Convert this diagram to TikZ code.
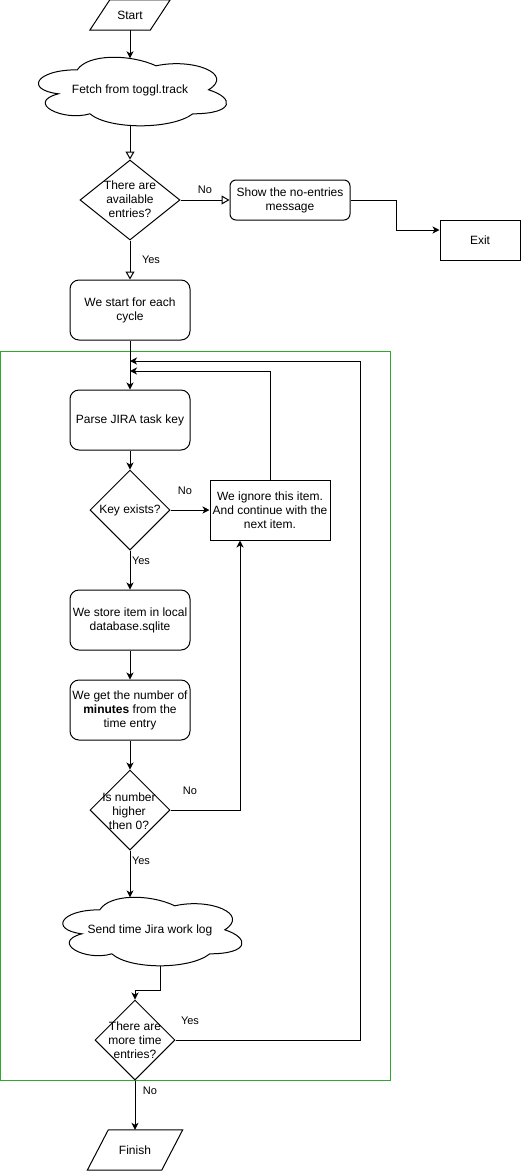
\documentclass[tikz,border=0pt]{standalone}
\usepackage{fontspec}
\setmainfont{Liberation Sans}
\usetikzlibrary{shapes.geometric,arrows.meta,calc}
\definecolor{grn}{RGB}{44,170,44}
\newcommand\drawiocloud[3]{%
  \draw[ln, shift={(#1.north west)}, x=#2pt, y=-#3pt]
    (0.25,0.25) .. controls (0.05,0.25) and (0,0.5) .. (0.16,0.55)
    .. controls (0,0.66) and (0.18,0.9) .. (0.31,0.8)
    .. controls (0.4,1) and (0.7,1) .. (0.8,0.8)
    .. controls (1,0.8) and (1,0.6) .. (0.875,0.5)
    .. controls (1,0.3) and (0.8,0.1) .. (0.625,0.2)
    .. controls (0.5,0.05) and (0.3,0.05) .. (0.25,0.25) -- cycle;}
\newcommand\drawpara[2]{%
  \draw[ln] ([xshift=#2pt]#1.north west) -- (#1.north east)
    -- ([xshift=-#2pt]#1.south east) -- (#1.south west) -- cycle;}
\begin{document}
\begin{tikzpicture}[x=1pt,y=-1pt,
  ln/.style={draw=black, line width=1pt},
  arr/.style={ln, -{Stealth[length=7pt,width=7pt,inset=2pt]}},
  oarr/.style={ln, -{Triangle[open,length=8pt,width=9pt,fill=white]}},
  txt/.style={font=\fontsize{12}{14}\selectfont, align=center, inner sep=0pt},
  lbl/.style={font=\fontsize{11}{13}\selectfont, inner sep=0pt},
  rbox/.style={txt, draw, line width=1pt, rounded corners=9pt, minimum width=120pt, minimum height=60pt},
  sbox/.style={txt, draw, line width=1pt, minimum width=120pt, minimum height=60pt},
  dia/.style={draw, diamond, inner sep=0pt, line width=1pt},
  holder/.style={txt}
]
\useasboundingbox (0,0) rectangle (521,1171);

% container
\draw[grn, line width=1pt] (0.5,351) rectangle (390,1080);

% start
\node[holder, minimum width=80pt, minimum height=30pt] (start) at (130,15) {Start};
\drawpara{start}{20}

% cloud 1
\node[holder, minimum width=210pt, minimum height=80pt] (c1) at (130,90) {Fetch from toggl.track};
\drawiocloud{c1}{210}{80}
\coordinate (c1t) at ([yshift=-8.5pt]c1.north);
\coordinate (c1b) at ([yshift=4.3pt]c1.south);

% decision 1
\node[dia, minimum width=100pt, minimum height=80pt] (d1) at (130,200) {};
\node[txt] (d1t) at (130,199) {There are\\available\\entries?};

\node[rbox, rounded corners=6pt, minimum height=40pt] (nomsg) at (290,200) {Show the no-entries\\message};
\node[sbox, minimum width=80pt, minimum height=40pt] (exit) at (480,240) {Exit};

\node[rbox] (cyc) at (130,310) {We start for each\\cycle};

\node[rbox] (parse) at (130,420) {Parse JIRA task key};
\coordinate (j1) at (130,361);
\coordinate (j2) at (130,371);
\coordinate (loop) at (360,361);

\node[dia, minimum width=80pt, minimum height=80pt] (d2) at (130,510) {};
\node[txt] (d2t) at (130,510) {Key exists?};

\node[sbox] (ign) at (270,510) {We ignore this item.\\And continue with the\\next item.};

\node[rbox] (store) at (130,620) {We store item in local\\database.sqlite};
\node[rbox] (mins) at (130,710) {We get the number of\\\textbf{minutes} from the\\time entry};

\node[dia, minimum width=80pt, minimum height=80pt] (d3) at (130,810) {};
\node[txt] (d3t) at (129,811) {Is number\\higher\\then 0?};

% cloud 2
\node[holder, minimum width=200pt, minimum height=80pt] (c2) at (150,930) {Send time Jira work log};
\drawiocloud{c2}{200}{80}
\coordinate (c2t) at ([xshift=-20pt,yshift=-7.6pt]c2.north);
\coordinate (c2b) at ([xshift=10pt,yshift=4pt]c2.south);

\node[dia, minimum width=80pt, minimum height=80pt] (d4) at (135,1040) {};
\node[txt] (d4t) at (135,1040) {There are\\more time\\entries?};

\node[holder, minimum width=95pt, minimum height=40pt] (fin) at (135,1150) {Finish};
\drawpara{fin}{21}

% connectors
\draw[arr] (start.south) -- (c1t);
\draw[oarr] (c1b) -- (d1.north);
\draw[oarr] (d1.east) -- (nomsg.west);
\draw[arr] (nomsg.east) -- ++(46,0) |- ([yshift=10pt]exit.west);
\draw[oarr] (d1.south) -- (cyc.north);
\draw[arr] (cyc.south) -- (parse.north);
\draw[arr] (parse.south) -- (d2.north);
\draw[arr] (d2.east) -- (ign.west);
\draw[arr] (d2.south) -- (store.north);
\draw[arr] (store.south) -- (mins.north);
\draw[arr] (mins.south) -- (d3.north);
\draw[arr] (d3.east) -| ([xshift=-30pt]ign.south);
\draw[arr] (ign.north) |- (j2);
\draw[arr] (d3.south) -- (c2t);
\draw[arr] (c2b) -- ++(0,24) -| (d4.north);
\draw[arr] (d4.east) -| (loop) -- (j1);
\draw[arr] (d4.south) -- (fin.north);

% labels
\node[lbl] (l1) at (205,190) {No};
\node[lbl] (l2) at (151,260) {Yes};
\node[lbl] (l3) at (185,491) {No};
\node[lbl] (l4) at (141,561) {Yes};
\node[lbl] (l5) at (190,791) {No};
\node[lbl] (l6) at (141,861) {Yes};
\node[lbl] (l7) at (190,1021) {Yes};
\node[lbl] (l8) at (150,1091) {No};
\end{tikzpicture}
\end{document}
